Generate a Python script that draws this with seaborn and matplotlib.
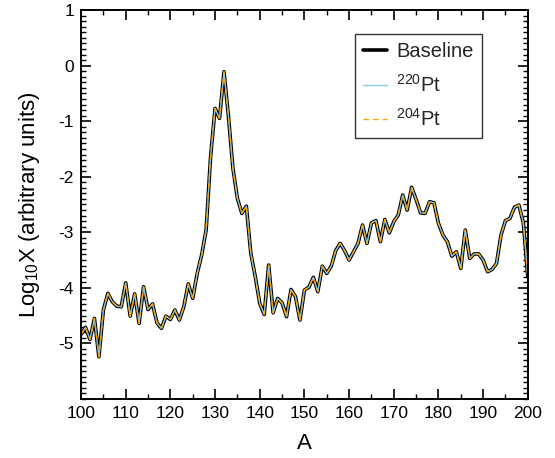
import numpy as np
import pandas as pd
import matplotlib
matplotlib.use("Agg")
import matplotlib.pyplot as plt
import seaborn as sns
from matplotlib.ticker import MultipleLocator

mass_number = list(range(100, 201))

baseline = [
    -4.84, -4.71, -4.93, -4.55, -5.24, -4.40, -4.10, -4.25, -4.33, -4.34,
    -3.91, -4.51, -4.11, -4.64, -3.98, -4.39, -4.29, -4.63, -4.73, -4.51,
    -4.57, -4.40, -4.58, -4.34, -3.93, -4.19, -3.74, -3.41, -2.96, -1.64,
    -0.77, -0.95, -0.11, -0.92, -1.85, -2.39, -2.66, -2.53, -3.38, -3.80,
    -4.28, -4.48, -3.59, -4.45, -4.19, -4.27, -4.52, -4.03, -4.16, -4.58,
    -4.04, -3.99, -3.81, -4.07, -3.61, -3.74, -3.61, -3.33, -3.20, -3.33,
    -3.50, -3.35, -3.20, -2.87, -3.20, -2.83, -2.79, -3.17, -2.77, -3.01,
    -2.81, -2.69, -2.33, -2.60, -2.19, -2.41, -2.65, -2.66, -2.45, -2.47,
    -2.84, -3.05, -3.17, -3.43, -3.35, -3.65, -2.96, -3.47, -3.39, -3.39,
    -3.50, -3.71, -3.67, -3.56, -3.05, -2.79, -2.75, -2.55, -2.51, -2.83,
    -3.80,
]
pt220 = baseline
pt204 = baseline

series_labels = ["Baseline", r"$^{220}$Pt", r"$^{204}$Pt"]
x_ticks = list(range(100, 201, 10))
y_ticks = [1, 0, -1, -2, -3, -4, -5]

sns.set_theme(style="white")
plt.rcParams["font.family"] = ["Liberation Sans", "DejaVu Sans"]
plt.rcParams["mathtext.fontset"] = "custom"
plt.rcParams["mathtext.rm"] = "Liberation Sans"
plt.rcParams["mathtext.it"] = "Liberation Sans:italic"
plt.rcParams["axes.unicode_minus"] = False

df = pd.DataFrame({"A": mass_number, "Baseline": baseline,
                   "220": pt220, "204": pt204})

fig = plt.figure(figsize=(5.55, 4.58), dpi=100)
ax = fig.add_axes([0.146, 0.129, 0.805, 0.849])

sns.lineplot(data=df, x="A", y="Baseline", ax=ax, color="black", linewidth=2.6,
             label=series_labels[0])
sns.lineplot(data=df, x="A", y="220", ax=ax, color="#87ceeb", linewidth=1.0,
             label=series_labels[1])
sns.lineplot(data=df, x="A", y="204", ax=ax, color="orange", linewidth=1.0,
             linestyle=(0, (4, 3)), label=series_labels[2])

ax.set_xlim(100, 200)
ax.set_ylim(-6, 1)
ax.set_xticks(x_ticks)
ax.set_yticks(y_ticks)
ax.xaxis.set_minor_locator(MultipleLocator(5))
ax.yaxis.set_minor_locator(MultipleLocator(0.1))
ax.tick_params(which="both", direction="in", top=True, right=True,
               bottom=True, left=True, labelsize=12.5, colors="black")
ax.tick_params(which="major", length=7, width=1.2, pad=5)
ax.tick_params(which="minor", length=3.5, width=1.0)
for s in ax.spines.values():
    s.set_color("black")
    s.set_linewidth(1.4)

ax.set_xlabel("A", fontsize=16, color="black", labelpad=9)
ax.set_ylabel(r"Log$_{10}$X (arbitrary units)", fontsize=16, color="black",
              labelpad=12)

leg = ax.legend(loc="upper right", bbox_to_anchor=(0.897, 0.938),
                borderaxespad=0, fontsize=14.5, frameon=True, fancybox=False,
                handlelength=1.2, borderpad=0.4, labelspacing=0.62,
                handletextpad=0.45)
leg.get_frame().set_edgecolor("black")
leg.get_frame().set_linewidth(1.0)

fig.savefig("out.png", dpi=100)
